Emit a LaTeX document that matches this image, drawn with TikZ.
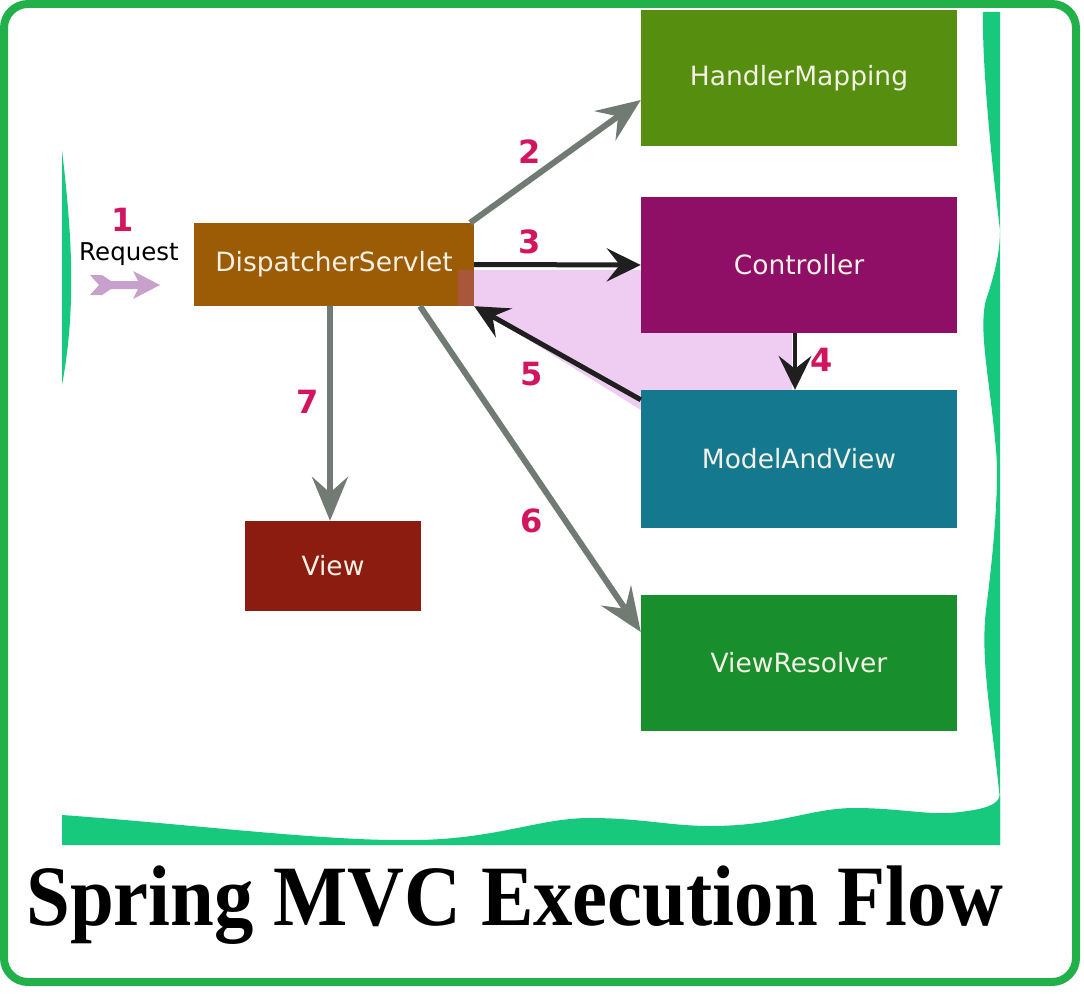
\documentclass[tikz,border=0pt]{standalone}
\usepackage{fontspec}
\setmainfont{Liberation Serif}
\newfontfamily\boxfont{DejaVu Sans}
\usetikzlibrary{arrows.meta,calc,positioning}
\definecolor{smBorder}{HTML}{22B04B}
\definecolor{smWave}{HTML}{17C97D}
\definecolor{smHandler}{HTML}{568F0F}
\definecolor{smCtrl}{HTML}{8F0E66}
\definecolor{smModel}{HTML}{14798F}
\definecolor{smResolver}{HTML}{188E2C}
\definecolor{smDisp}{HTML}{9C5C06}
\definecolor{smView}{HTML}{8C1C0F}
\definecolor{smGray}{HTML}{717B74}
\definecolor{smNum}{HTML}{D3155F}
\definecolor{smPink}{HTML}{EFCCF1}
\definecolor{smPatch}{HTML}{A9573A}
\definecolor{smReq}{HTML}{C7A0CB}
\definecolor{smText}{HTML}{F4F1E4}
\tikzset{
 mvc/.style={line join=miter,x=1pt,y=-1pt},
 block/.style={rectangle,inner sep=0pt,text=smText,font=\boxfont\fontsize{26.5}{30}\selectfont},
 wide/.style={block,minimum width=316pt,minimum height=136pt},
 stepnum/.style={font=\boxfont\bfseries\fontsize{32}{34}\selectfont,text=smNum},
 grayflow/.style={draw=smGray,line width=6pt,-{Stealth[length=44pt,width=36pt,inset=16pt]}},
 darkflow/.style={draw=black!88,line width=5pt,-{Stealth[length=34pt,width=33pt,inset=13pt]}},
 wave/.style={fill=smWave,draw=none},
 frame/.style={draw=smBorder,line width=8pt,rounded corners=24pt}
}

\begin{document}
\begin{tikzpicture}[mvc]
 \useasboundingbox (0,0) rectangle (1084,998);
 \fill[white] (0,0) rectangle (1084,998);
 % green waves round the picture
 \fill[wave] (62,150) .. controls (70,220) and (78,300) .. (62,385) -- cycle;
 \fill[wave] (983,12) -- (1000,12) -- (1000,845) -- (1000,800)
   .. controls (992,720) and (980,660) .. (986,610)
   .. controls (995,540) and (999,480) .. (996,450)
   .. controls (990,380) and (978,330) .. (986,300)
   .. controls (996,270) and (1000,250) .. (1000,230)
   .. controls (990,150) and (982,60) .. (983,12) -- cycle;
 \fill[wave] (62,845) -- (62,815) .. controls (200,825) and (330,842) .. (420,840)
   .. controls (500,838) and (540,818) .. (590,818)
   .. controls (640,818) and (670,826) .. (710,826)
   .. controls (780,826) and (810,808) .. (855,808)
   .. controls (900,808) and (930,816) .. (960,812)
   .. controls (985,809) and (998,805) .. (1000,795) -- (1000,845) -- cycle;
 % pink band between servlet and controller
 \fill[smPink] (474,270) -- (641,270) -- (641,333) -- (792,333) -- (792,390)
   -- (641,390) -- (641,410) -- (474,306) -- cycle;
 \node[wide,fill=smHandler] (hm) at (799,78) {HandlerMapping};
 \node[wide,fill=smCtrl] (ctrl) at (799,265) {Controller};
 \node[wide,fill=smModel,minimum height=138pt] (mav) at (799,459) {ModelAndView};
 \node[wide,fill=smResolver] (vr) at (799,663) {ViewResolver};
 \node[block,fill=smDisp,minimum width=280pt,minimum height=83pt] (ds) at (334,264.5) {DispatcherServlet};
 \node[block,fill=smView,minimum width=176pt,minimum height=90pt] (view) at (333,566) {View};
 \fill[smPatch] (458,270) rectangle (ds.south east);
 % request
 \node[font=\boxfont\fontsize{24.5}{28}\selectfont] (req) at (129,254) {Request};
 \fill[smReq] (90,275) -- (102,275) -- (111,281) -- (138,281) -- (133,271) -- (160,285)
   -- (133,299) -- (138,289) -- (111,289) -- (102,295) -- (90,295) -- (99,285) -- cycle;
 % flow
 \draw[grayflow] ([xshift=-4pt]ds.north east) -- ([yshift=-22pt]hm.west);
 \draw[darkflow] (ds.east) -- (ctrl.west);
 \draw[darkflow,line width=3.5pt] ([xshift=-4pt]ctrl.south) -- ([xshift=-4pt]mav.north);
 \draw[darkflow] ([yshift=-10pt]mav.north west) -- (ds.south east);
 \draw[grayflow] ([xshift=86pt]ds.south) -- ([yshift=31pt]vr.west);
 \draw[grayflow] ([xshift=-4pt]ds.south) -- ([xshift=-3pt]view.north);
 \foreach \n/\x/\y in {1/123/220,2/530/152,3/530/242,4/822/360,5/532/374,6/532/521,7/308/402}
   {\node[stepnum] (n\n) at (\x,\y) {\n};}
 \node[font=\bfseries\fontsize{86}{90}\selectfont,inner sep=0pt,anchor=base] (title) at (515,925)
   {\scalebox{0.915}[1]{Spring MVC Execution Flow}};
 \draw[frame] (4,4) rectangle (1076,982);
\end{tikzpicture}
\end{document}
